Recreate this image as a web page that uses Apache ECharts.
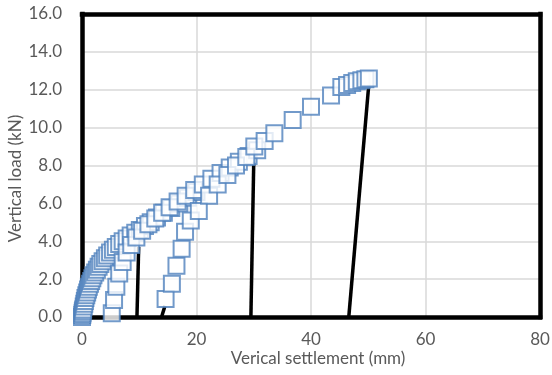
<!DOCTYPE html>
<html>
<head>
<meta charset="utf-8">
<script src="https://cdn.jsdelivr.net/npm/echarts@6/dist/echarts.min.js"></script>
<style>html,body{margin:0;padding:0;background:#fff}#c{width:552px;height:375px}</style>
</head>
<body>
<div id="c"></div>
<script>
// x tick labels and y tick labels
const xTicks = [0, 20, 40, 60, 80];
const yTicks = [0, 2, 4, 6, 8, 10, 12, 14, 16];

// Initial loading branch (settlement mm, load kN)
const s1 = [0.0,0.05,0.1,0.15,0.2,0.3,0.4,0.5,0.6,0.75,0.9,1.05,1.2,1.4,1.6,1.8,2.0,2.3,2.6,2.9,3.2,3.6,4.0,4.4,4.9,5.4,5.9,6.5,7.1,7.8,8.5,9.3,10.1,11.0,12.0,13.1,14.3,15.6,17.0,18.5,20.0];
const p1 = [0.0,0.1,0.2,0.3,0.4,0.55,0.7,0.85,1.0,1.15,1.3,1.45,1.6,1.75,1.9,2.05,2.2,2.35,2.5,2.65,2.8,2.95,3.1,3.25,3.4,3.55,3.7,3.85,4.0,4.15,4.3,4.45,4.6,4.8,5.0,5.25,5.5,5.75,6.0,6.3,6.6];

// First reloading branch
const s2 = [5.2,5.6,6.0,6.5,7.1,7.8,8.6,9.5,10.5,11.6,12.8,14.0,15.3,16.7,18.1,19.6,21.1,22.6,24.2,25.8,27.4,29.1,30.6];
const p2 = [0.2,0.9,1.6,2.3,2.9,3.4,3.8,4.2,4.55,4.9,5.2,5.5,5.8,6.1,6.4,6.7,7.0,7.3,7.6,7.9,8.2,8.5,8.8];

// Second reloading branch up to final load
const s3 = [14.6,15.7,16.5,17.4,18.0,19.0,20.4,22.2,23.7,25.4,26.9,28.7,30.1,31.9,33.6,36.8,40.0,43.5,45.3,46.3,47.2,48.0,48.8,49.5,50.1];
const p3 = [0.95,1.75,2.7,3.6,4.5,5.1,5.6,6.4,7.0,7.5,8.0,8.45,9.0,9.3,9.7,10.4,11.1,11.7,12.15,12.25,12.35,12.45,12.5,12.55,12.6];

// Unloading lines (black)
const u1s = [9.6, 9.9],  u1p = [0, 3.7];
const u2s = [13.9, 14.5], u2p = [0, 0.6];
const u3s = [29.5, 30.0], u3p = [0, 8.2];
const u4s = [46.6, 50.1], u4p = [0, 12.3];

const zip = (a, b) => a.map((v, i) => [v, b[i]]);
const font = 'Lato, "Open Sans", sans-serif';
const txt = '#595959';
const fs = 17;

const markerStyle = { color: '#ffffff', borderColor: '#4f81bd', borderWidth: 2 };
const sq = (s, p) => ({
  type: 'scatter', data: zip(s, p), symbol: 'rect', symbolSize: 16,
  itemStyle: markerStyle, clip: false, z: 3, emphasis: { disabled: true }
});
const ln = (s, p) => ({
  type: 'line', data: zip(s, p), symbol: 'none', clip: false, z: 2,
  lineStyle: { color: '#000', width: 3.5 }
});
const border = { show: true, onZero: false, lineStyle: { color: '#000', width: 4.5, cap: 'square' } };
const xmin = xTicks[0], xmax = xTicks[xTicks.length - 1];
const ymin = yTicks[0], ymax = yTicks[yTicks.length - 1];

const chart = echarts.init(document.getElementById('c'), null, { renderer: 'canvas' });
chart.setOption({
  animation: false,
  backgroundColor: '#fff',
  grid: { left: 82, right: 12, top: 14, bottom: 58, containLabel: false, outerBoundsMode: 'none' },
  xAxis: [{
    type: 'value', position: 'bottom', min: xmin, max: xmax, interval: 20,
    name: 'Verical settlement (mm)', nameLocation: 'middle', nameGap: 33, nameMoveOverlap: false,
    nameTextStyle: { color: txt, fontSize: fs, fontFamily: font, padding: [0, 0, 0, 14] },
    axisLine: border, axisTick: { show: false },
    axisLabel: { color: txt, fontSize: fs, fontFamily: font, margin: 14 },
    splitLine: { show: true, lineStyle: { color: '#d9d9d9', width: 1.5 } }
  }, {
    type: 'value', position: 'top', min: xmin, max: xmax, interval: 20,
    axisLine: border, axisTick: { show: false }, axisLabel: { show: false }, splitLine: { show: false }
  }],
  yAxis: [{
    type: 'value', position: 'left', min: ymin, max: ymax, interval: 2,
    name: 'Vertical load (kN)', nameLocation: 'middle', nameGap: 58, nameRotate: 90, nameMoveOverlap: false,
    nameTextStyle: { color: txt, fontSize: fs, fontFamily: font, padding: [0, 26, 0, 0] },
    axisLine: border, axisTick: { show: false },
    axisLabel: { color: txt, fontSize: fs, fontFamily: font, margin: 20, formatter: v => v.toFixed(1) },
    splitLine: { show: true, lineStyle: { color: '#d9d9d9', width: 1.5 } }
  }, {
    type: 'value', position: 'right', min: ymin, max: ymax, interval: 2,
    axisLine: border, axisTick: { show: false }, axisLabel: { show: false }, splitLine: { show: false }
  }],
  series: [
    ln(u1s, u1p), ln(u2s, u2p), ln(u3s, u3p), ln(u4s, u4p),
    sq(s1, p1), sq(s2, p2), sq(s3, p3)
  ]
});
</script>
</body>
</html>
